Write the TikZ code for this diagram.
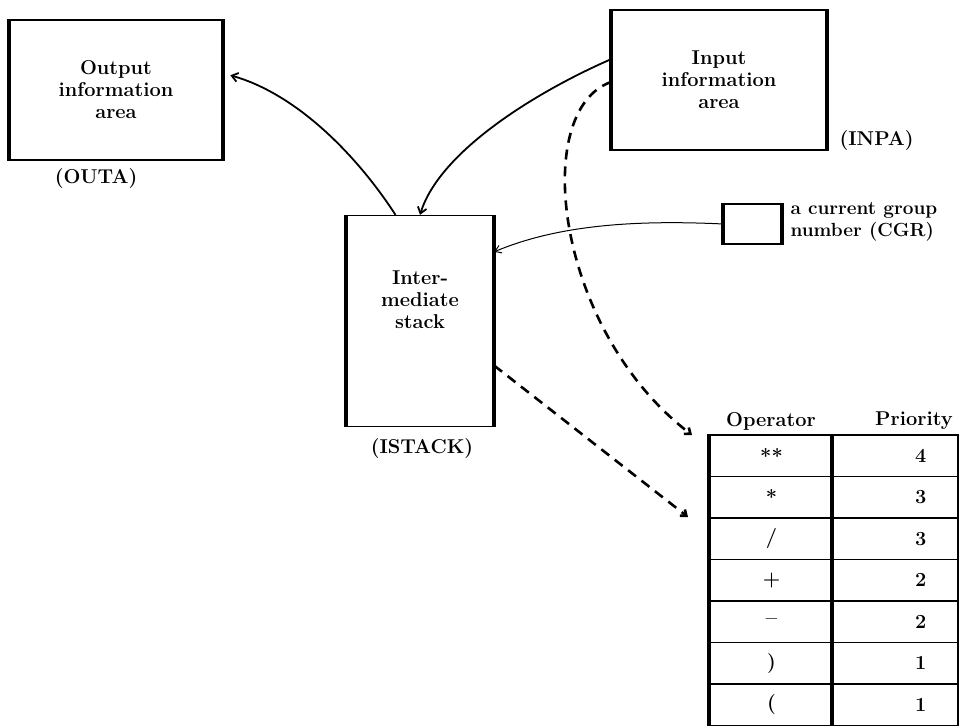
\documentclass[tikz,border=0pt]{standalone}
\usepackage{fontspec}
\usetikzlibrary{arrows.meta, positioning}

\begin{document}
\begin{tikzpicture}[
    x=1pt, y=-1pt,
    box/.style={draw, line width=1.3pt, inner sep=0pt, font=\fontsize{20}{22}\selectfont\bfseries, align=center},
    sidebar/.style={line width=3.8pt},
    label/.style={font=\fontsize{20}{22}\selectfont\bfseries, align=left},
    cell/.style={draw, line width=1.3pt, minimum height=41.5, inner sep=0pt, font=\fontsize{20}{22}\selectfont\bfseries},
    arrow/.style={-{Straight Barb[length=6pt, width=9pt]}, line width=1.8pt},
    thinarrow/.style={-{Straight Barb[length=6pt, width=8pt]}, line width=1pt},
    dasharrow/.style={-{Straight Barb[length=5pt, width=8pt]}, line width=2.6pt, dash pattern=on 10pt off 7pt}
  ]
  \useasboundingbox (0,0) rectangle (959,726);

  % storage areas
  \node[box, minimum width=212, minimum height=140] (outa) at (116,90) {Output\\information\\area};
  \node[box, minimum width=214, minimum height=140] (inpa) at (719,80) {Input\\information\\area};
  \node[box, minimum width=147, minimum height=211] (istack) at (420,321) {};
  \node[label, align=center] (istacktext) at (420,300) {Inter-\\mediate\\stack};
  \node[box, minimum width=57, minimum height=40] (cgr) at (752.5,224) {};

  \draw[sidebar] (outa.north west) -- (outa.south west) (outa.north east) -- (outa.south east);
  \draw[sidebar] (inpa.north west) -- (inpa.south west) (inpa.north east) -- (inpa.south east);
  \draw[sidebar] (istack.north west) -- (istack.south west) (istack.north east) -- (istack.south east);
  \draw[sidebar] (cgr.north west) -- (cgr.south west) (cgr.north east) -- (cgr.south east);

  \node[label] (outalab) at (96,179) {(OUTA)};
  \node[label, anchor=west] (inpalab) at (836,141) {(INPA)};
  \node[label] (istacklab) at (422,449) {(ISTACK)};
  \node[label, anchor=west, font=\fontsize{19}{22}\selectfont\bfseries] (cgrlab) at (787,222) {a current group\\number (CGR)};

  % priority table
  \node[label] (ophead) at (771,421) {Operator};
  \node[label] (prhead) at (914,421) {Priority};
  \foreach \op/\pr [count=\i] in {{**}/4, {*}/3, {/}/3, {+}/2, {--}/2, {)}/1, {(}/1} {
    \node[cell, minimum width=123] (op\i) at (771.5, {435+41.5*(\i-0.5)}) {\op};
    \node[cell, minimum width=125, text width=62, align=right] (pr\i) at (895.5, {435+41.5*(\i-0.5)}) {\pr};
  }
  \draw[sidebar] (op1.north west) -- (op7.south west);
  \draw[sidebar] (pr1.north west) -- (pr7.south west);

  \coordinate (tipA) at (692,435);
  \coordinate (tipB) at (688,517);

  % connections
  \draw[arrow, shorten >=8pt] (istack.103) .. controls (360,160) and (300,95) .. (outa.9);
  \draw[arrow] (inpa.169) .. controls (540,90) and (440,150) .. (istack.north);
  \draw[thinarrow] (cgr.west) .. controls (640,220) and (560,224) .. (istack.43);
  \draw[dasharrow] (inpa.181) .. controls (530,110) and (555,330) .. (tipA);
  \draw[dasharrow] (istack.-31) -- (tipB);
\end{tikzpicture}
\end{document}
